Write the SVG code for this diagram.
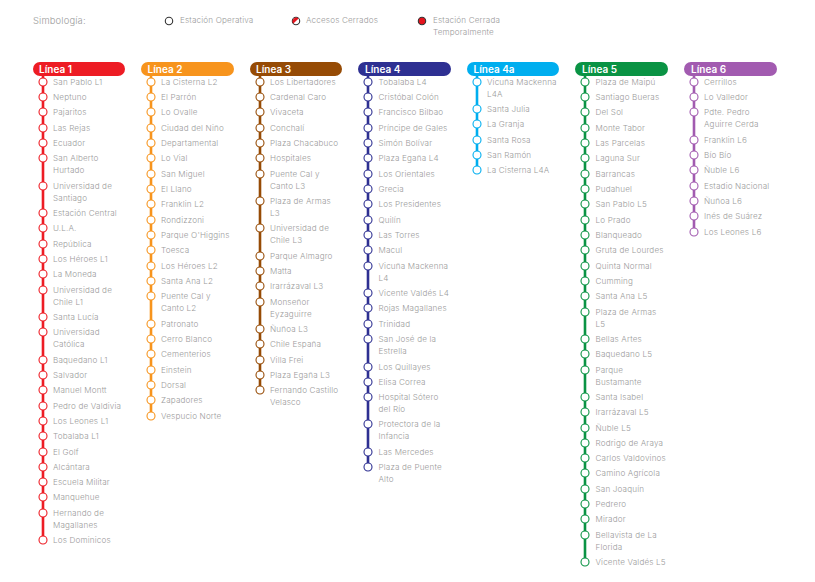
<svg xmlns="http://www.w3.org/2000/svg" width="815" height="582" viewBox="0 0 815 582">
<style>
text{font-family:"Inter","Liberation Sans",sans-serif;font-size:8.1px;font-weight:300;fill:#9b9b9b;letter-spacing:.17px}
.h text{font-size:10px;font-weight:600;fill:#fff;letter-spacing:0}
circle{fill:#fff;stroke-width:1.1}
#connectors line{stroke-width:2.6}
.l1 circle{stroke:#ed1c24}.l2 circle{stroke:#f7941d}.l3 circle{stroke:#964b05}.l4 circle{stroke:#2e3092}.l4a circle{stroke:#00aeef}.l5 circle{stroke:#0a9344}.l6 circle{stroke:#a25bb0}
</style>
<rect width="815" height="582" fill="#fff"/>
<g id="legend">
<text x="33" y="24" style="font-size:9.4px">Simbología:</text>
<g id="leg-operativa"><circle cx="169" cy="21" r="3.7" stroke="#333"/><text x="180" y="23">Estación Operativa</text></g>
<g id="leg-accesos"><circle cx="296" cy="21" r="3.7" stroke="#333"/><path d="M293.400 23.600A3.700 3.700 0 0 1 298.600 18.400Z" fill="#e5131d"/><text x="306" y="23">Accesos Cerrados</text></g>
<g id="leg-cerrada"><circle cx="422" cy="21" r="3.7" stroke="#333" style="fill:#e5131d"/><text x="433" y="23">Estación Cerrada</text><text x="433" y="35">Temporalmente</text></g>
</g>
<g id="connectors">
<line x1="43" y1="76" x2="43" y2="540" stroke="#ed1c24"/>
<line x1="151" y1="76" x2="151" y2="416" stroke="#f7941d"/>
<line x1="260" y1="76" x2="260" y2="390" stroke="#964b05"/>
<line x1="368" y1="76" x2="368" y2="467" stroke="#2e3092"/>
<line x1="477" y1="76" x2="477" y2="170" stroke="#00aeef"/>
<line x1="585" y1="76" x2="585" y2="562" stroke="#0a9344"/>
<line x1="694" y1="76" x2="694" y2="232" stroke="#a25bb0"/>
</g>
<g id="headers" class="h">
<g id="h1"><rect x="33" y="62" width="92" height="14" rx="7" fill="#ed1c24"/><text x="39" y="73">Línea 1</text></g>
<g id="h2"><rect x="141" y="62" width="93" height="14" rx="7" fill="#f7941d"/><text x="147.500" y="73">Línea 2</text></g>
<g id="h3"><rect x="250" y="62" width="92" height="14" rx="7" fill="#964b05"/><text x="256" y="73">Línea 3</text></g>
<g id="h4"><rect x="358" y="62" width="93" height="14" rx="7" fill="#2e3092"/><text x="365" y="73">Línea 4</text></g>
<g id="h4a"><rect x="467" y="62" width="92" height="14" rx="7" fill="#00aeef"/><text x="473.500" y="73">Línea 4a</text></g>
<g id="h5"><rect x="575" y="62" width="93" height="14" rx="7" fill="#0a9344"/><text x="582" y="73">Línea 5</text></g>
<g id="h6"><rect x="684" y="62" width="93" height="14" rx="7" fill="#a25bb0"/><text x="691" y="73">Línea 6</text></g>
</g>
<g class="l1">
<g id="l1-1"><circle cx="43" cy="82" r="4"/><text x="53" y="85">San Pablo L1</text></g>
<g id="l1-2"><circle cx="43" cy="97" r="4"/><text x="53" y="100">Neptuno</text></g>
<g id="l1-3"><circle cx="43" cy="112" r="4"/><text x="53" y="115">Pajaritos</text></g>
<g id="l1-4"><circle cx="43" cy="128" r="4"/><text x="53" y="131">Las Rejas</text></g>
<g id="l1-5"><circle cx="43" cy="143" r="4"/><text x="53" y="146">Ecuador</text></g>
<g id="l1-6"><circle cx="43" cy="158" r="4"/><text x="53" y="161">San Alberto</text><text x="53" y="173">Hurtado</text></g>
<g id="l1-7"><circle cx="43" cy="186" r="4"/><text x="53" y="189">Universidad de</text><text x="53" y="201">Santiago</text></g>
<g id="l1-8"><circle cx="43" cy="213" r="4"/><text x="53" y="216">Estación Central</text></g>
<g id="l1-9"><circle cx="43" cy="228" r="4"/><text x="53" y="231">U.L.A.</text></g>
<g id="l1-10"><circle cx="43" cy="244" r="4"/><text x="53" y="247">República</text></g>
<g id="l1-11"><circle cx="43" cy="259" r="4"/><text x="53" y="262">Los Héroes L1</text></g>
<g id="l1-12"><circle cx="43" cy="274" r="4"/><text x="53" y="277">La Moneda</text></g>
<g id="l1-13"><circle cx="43" cy="290" r="4"/><text x="53" y="293">Universidad de</text><text x="53" y="305">Chile L1</text></g>
<g id="l1-14"><circle cx="43" cy="317" r="4"/><text x="53" y="320">Santa Lucía</text></g>
<g id="l1-15"><circle cx="43" cy="332" r="4"/><text x="53" y="335">Universidad</text><text x="53" y="347">Católica</text></g>
<g id="l1-16"><circle cx="43" cy="360" r="4"/><text x="53" y="363">Baquedano L1</text></g>
<g id="l1-17"><circle cx="43" cy="375" r="4"/><text x="53" y="378">Salvador</text></g>
<g id="l1-18"><circle cx="43" cy="390" r="4"/><text x="53" y="393">Manuel Montt</text></g>
<g id="l1-19"><circle cx="43" cy="406" r="4"/><text x="53" y="409">Pedro de Valdivia</text></g>
<g id="l1-20"><circle cx="43" cy="421" r="4"/><text x="53" y="424">Los Leones L1</text></g>
<g id="l1-21"><circle cx="43" cy="436" r="4"/><text x="53" y="439">Tobalaba L1</text></g>
<g id="l1-22"><circle cx="43" cy="452" r="4"/><text x="53" y="455">El Golf</text></g>
<g id="l1-23"><circle cx="43" cy="467" r="4"/><text x="53" y="470">Alcántara</text></g>
<g id="l1-24"><circle cx="43" cy="482" r="4"/><text x="53" y="485">Escuela Militar</text></g>
<g id="l1-25"><circle cx="43" cy="497" r="4"/><text x="53" y="500">Manquehue</text></g>
<g id="l1-26"><circle cx="43" cy="513" r="4"/><text x="53" y="516">Hernando de</text><text x="53" y="528">Magallanes</text></g>
<g id="l1-27"><circle cx="43" cy="540" r="4"/><text x="53" y="543">Los Dominicos</text></g>
</g>
<g class="l2">
<g id="l2-1"><circle cx="151" cy="82" r="4"/><text x="161" y="85">La Cisterna L2</text></g>
<g id="l2-2"><circle cx="151" cy="97" r="4"/><text x="161" y="100">El Parrón</text></g>
<g id="l2-3"><circle cx="151" cy="112" r="4"/><text x="161" y="115">Lo Ovalle</text></g>
<g id="l2-4"><circle cx="151" cy="128" r="4"/><text x="161" y="131">Ciudad del Niño</text></g>
<g id="l2-5"><circle cx="151" cy="143" r="4"/><text x="161" y="146">Departamental</text></g>
<g id="l2-6"><circle cx="151" cy="158" r="4"/><text x="161" y="161">Lo Vial</text></g>
<g id="l2-7"><circle cx="151" cy="174" r="4"/><text x="161" y="177">San Miguel</text></g>
<g id="l2-8"><circle cx="151" cy="189" r="4"/><text x="161" y="192">El Llano</text></g>
<g id="l2-9"><circle cx="151" cy="204" r="4"/><text x="161" y="207">Franklin L2</text></g>
<g id="l2-10"><circle cx="151" cy="220" r="4"/><text x="161" y="223">Rondizzoni</text></g>
<g id="l2-11"><circle cx="151" cy="235" r="4"/><text x="161" y="238">Parque O'Higgins</text></g>
<g id="l2-12"><circle cx="151" cy="250" r="4"/><text x="161" y="253">Toesca</text></g>
<g id="l2-13"><circle cx="151" cy="266" r="4"/><text x="161" y="269">Los Héroes L2</text></g>
<g id="l2-14"><circle cx="151" cy="281" r="4"/><text x="161" y="284">Santa Ana L2</text></g>
<g id="l2-15"><circle cx="151" cy="296" r="4"/><text x="161" y="299">Puente Cal y</text><text x="161" y="311">Canto L2</text></g>
<g id="l2-16"><circle cx="151" cy="324" r="4"/><text x="161" y="327">Patronato</text></g>
<g id="l2-17"><circle cx="151" cy="339" r="4"/><text x="161" y="342">Cerro Blanco</text></g>
<g id="l2-18"><circle cx="151" cy="354" r="4"/><text x="161" y="357">Cementerios</text></g>
<g id="l2-19"><circle cx="151" cy="370" r="4"/><text x="161" y="373">Einstein</text></g>
<g id="l2-20"><circle cx="151" cy="385" r="4"/><text x="161" y="388">Dorsal</text></g>
<g id="l2-21"><circle cx="151" cy="400" r="4"/><text x="161" y="403">Zapadores</text></g>
<g id="l2-22"><circle cx="151" cy="416" r="4"/><text x="161" y="419">Vespucio Norte</text></g>
</g>
<g class="l3">
<g id="l3-1"><circle cx="260" cy="82" r="4"/><text x="270" y="85">Los Libertadores</text></g>
<g id="l3-2"><circle cx="260" cy="97" r="4"/><text x="270" y="100">Cardenal Caro</text></g>
<g id="l3-3"><circle cx="260" cy="112" r="4"/><text x="270" y="115">Vivaceta</text></g>
<g id="l3-4"><circle cx="260" cy="128" r="4"/><text x="270" y="131">Conchalí</text></g>
<g id="l3-5"><circle cx="260" cy="143" r="4"/><text x="270" y="146">Plaza Chacabuco</text></g>
<g id="l3-6"><circle cx="260" cy="158" r="4"/><text x="270" y="161">Hospitales</text></g>
<g id="l3-7"><circle cx="260" cy="174" r="4"/><text x="270" y="177">Puente Cal y</text><text x="270" y="189">Canto L3</text></g>
<g id="l3-8"><circle cx="260" cy="201" r="4"/><text x="270" y="204">Plaza de Armas</text><text x="270" y="216">L3</text></g>
<g id="l3-9"><circle cx="260" cy="228" r="4"/><text x="270" y="231">Universidad de</text><text x="270" y="243">Chile L3</text></g>
<g id="l3-10"><circle cx="260" cy="256" r="4"/><text x="270" y="259">Parque Almagro</text></g>
<g id="l3-11"><circle cx="260" cy="271" r="4"/><text x="270" y="274">Matta</text></g>
<g id="l3-12"><circle cx="260" cy="286" r="4"/><text x="270" y="289">Irarrázaval L3</text></g>
<g id="l3-13"><circle cx="260" cy="302" r="4"/><text x="270" y="305">Monseñor</text><text x="270" y="317">Eyzaguirre</text></g>
<g id="l3-14"><circle cx="260" cy="329" r="4"/><text x="270" y="332">Ñuñoa L3</text></g>
<g id="l3-15"><circle cx="260" cy="344" r="4"/><text x="270" y="347">Chile España</text></g>
<g id="l3-16"><circle cx="260" cy="360" r="4"/><text x="270" y="363">Villa Frei</text></g>
<g id="l3-17"><circle cx="260" cy="375" r="4"/><text x="270" y="378">Plaza Egaña L3</text></g>
<g id="l3-18"><circle cx="260" cy="390" r="4"/><text x="270" y="393">Fernando Castillo</text><text x="270" y="405">Velasco</text></g>
</g>
<g class="l4">
<g id="l4-1"><circle cx="368" cy="82" r="4"/><text x="378.500" y="85">Tobalaba L4</text></g>
<g id="l4-2"><circle cx="368" cy="97" r="4"/><text x="378.500" y="100">Cristóbal Colón</text></g>
<g id="l4-3"><circle cx="368" cy="112" r="4"/><text x="378.500" y="115">Francisco Bilbao</text></g>
<g id="l4-4"><circle cx="368" cy="128" r="4"/><text x="378.500" y="131">Príncipe de Gales</text></g>
<g id="l4-5"><circle cx="368" cy="143" r="4"/><text x="378.500" y="146">Simón Bolívar</text></g>
<g id="l4-6"><circle cx="368" cy="158" r="4"/><text x="378.500" y="161">Plaza Egaña L4</text></g>
<g id="l4-7"><circle cx="368" cy="174" r="4"/><text x="378.500" y="177">Los Orientales</text></g>
<g id="l4-8"><circle cx="368" cy="189" r="4"/><text x="378.500" y="192">Grecia</text></g>
<g id="l4-9"><circle cx="368" cy="204" r="4"/><text x="378.500" y="207">Los Presidentes</text></g>
<g id="l4-10"><circle cx="368" cy="220" r="4"/><text x="378.500" y="223">Quilín</text></g>
<g id="l4-11"><circle cx="368" cy="235" r="4"/><text x="378.500" y="238">Las Torres</text></g>
<g id="l4-12"><circle cx="368" cy="250" r="4"/><text x="378.500" y="253">Macul</text></g>
<g id="l4-13"><circle cx="368" cy="266" r="4"/><text x="378.500" y="269">Vicuña Mackenna</text><text x="378.500" y="281">L4</text></g>
<g id="l4-14"><circle cx="368" cy="293" r="4"/><text x="378.500" y="296">Vicente Valdés L4</text></g>
<g id="l4-15"><circle cx="368" cy="308" r="4"/><text x="378.500" y="311">Rojas Magallanes</text></g>
<g id="l4-16"><circle cx="368" cy="324" r="4"/><text x="378.500" y="327">Trinidad</text></g>
<g id="l4-17"><circle cx="368" cy="339" r="4"/><text x="378.500" y="342">San José de la</text><text x="378.500" y="354">Estrella</text></g>
<g id="l4-18"><circle cx="368" cy="367" r="4"/><text x="378.500" y="370">Los Quillayes</text></g>
<g id="l4-19"><circle cx="368" cy="382" r="4"/><text x="378.500" y="385">Elisa Correa</text></g>
<g id="l4-20"><circle cx="368" cy="397" r="4"/><text x="378.500" y="400">Hospital Sótero</text><text x="378.500" y="412">del Río</text></g>
<g id="l4-21"><circle cx="368" cy="424" r="4"/><text x="378.500" y="427">Protectora de la</text><text x="378.500" y="439">Infancia</text></g>
<g id="l4-22"><circle cx="368" cy="452" r="4"/><text x="378.500" y="455">Las Mercedes</text></g>
<g id="l4-23"><circle cx="368" cy="467" r="4"/><text x="378.500" y="470">Plaza de Puente</text><text x="378.500" y="482">Alto</text></g>
</g>
<g class="l4a">
<g id="l4a-1"><circle cx="477" cy="82" r="4"/><text x="487" y="85">Vicuña Mackenna</text><text x="487" y="97">L4A</text></g>
<g id="l4a-2"><circle cx="477" cy="109" r="4"/><text x="487" y="112">Santa Julia</text></g>
<g id="l4a-3"><circle cx="477" cy="124" r="4"/><text x="487" y="127">La Granja</text></g>
<g id="l4a-4"><circle cx="477" cy="140" r="4"/><text x="487" y="143">Santa Rosa</text></g>
<g id="l4a-5"><circle cx="477" cy="155" r="4"/><text x="487" y="158">San Ramón</text></g>
<g id="l4a-6"><circle cx="477" cy="170" r="4"/><text x="487" y="173">La Cisterna L4A</text></g>
</g>
<g class="l5">
<g id="l5-1"><circle cx="585" cy="82" r="4"/><text x="595.500" y="85">Plaza de Maipú</text></g>
<g id="l5-2"><circle cx="585" cy="97" r="4"/><text x="595.500" y="100">Santiago Bueras</text></g>
<g id="l5-3"><circle cx="585" cy="112" r="4"/><text x="595.500" y="115">Del Sol</text></g>
<g id="l5-4"><circle cx="585" cy="128" r="4"/><text x="595.500" y="131">Monte Tabor</text></g>
<g id="l5-5"><circle cx="585" cy="143" r="4"/><text x="595.500" y="146">Las Parcelas</text></g>
<g id="l5-6"><circle cx="585" cy="158" r="4"/><text x="595.500" y="161">Laguna Sur</text></g>
<g id="l5-7"><circle cx="585" cy="174" r="4"/><text x="595.500" y="177">Barrancas</text></g>
<g id="l5-8"><circle cx="585" cy="189" r="4"/><text x="595.500" y="192">Pudahuel</text></g>
<g id="l5-9"><circle cx="585" cy="204" r="4"/><text x="595.500" y="207">San Pablo L5</text></g>
<g id="l5-10"><circle cx="585" cy="220" r="4"/><text x="595.500" y="223">Lo Prado</text></g>
<g id="l5-11"><circle cx="585" cy="235" r="4"/><text x="595.500" y="238">Blanqueado</text></g>
<g id="l5-12"><circle cx="585" cy="250" r="4"/><text x="595.500" y="253">Gruta de Lourdes</text></g>
<g id="l5-13"><circle cx="585" cy="266" r="4"/><text x="595.500" y="269">Quinta Normal</text></g>
<g id="l5-14"><circle cx="585" cy="281" r="4"/><text x="595.500" y="284">Cumming</text></g>
<g id="l5-15"><circle cx="585" cy="296" r="4"/><text x="595.500" y="299">Santa Ana L5</text></g>
<g id="l5-16"><circle cx="585" cy="312" r="4"/><text x="595.500" y="315">Plaza de Armas</text><text x="595.500" y="327">L5</text></g>
<g id="l5-17"><circle cx="585" cy="339" r="4"/><text x="595.500" y="342">Bellas Artes</text></g>
<g id="l5-18"><circle cx="585" cy="354" r="4"/><text x="595.500" y="357">Baquedano L5</text></g>
<g id="l5-19"><circle cx="585" cy="370" r="4"/><text x="595.500" y="373">Parque</text><text x="595.500" y="385">Bustamante</text></g>
<g id="l5-20"><circle cx="585" cy="397" r="4"/><text x="595.500" y="400">Santa Isabel</text></g>
<g id="l5-21"><circle cx="585" cy="412" r="4"/><text x="595.500" y="415">Irarrázaval L5</text></g>
<g id="l5-22"><circle cx="585" cy="428" r="4"/><text x="595.500" y="431">Ñuble L5</text></g>
<g id="l5-23"><circle cx="585" cy="443" r="4"/><text x="595.500" y="446">Rodrigo de Araya</text></g>
<g id="l5-24"><circle cx="585" cy="458" r="4"/><text x="595.500" y="461">Carlos Valdovinos</text></g>
<g id="l5-25"><circle cx="585" cy="473" r="4"/><text x="595.500" y="476">Camino Agrícola</text></g>
<g id="l5-26"><circle cx="585" cy="489" r="4"/><text x="595.500" y="492">San Joaquín</text></g>
<g id="l5-27"><circle cx="585" cy="504" r="4"/><text x="595.500" y="507">Pedrero</text></g>
<g id="l5-28"><circle cx="585" cy="519" r="4"/><text x="595.500" y="522">Mirador</text></g>
<g id="l5-29"><circle cx="585" cy="535" r="4"/><text x="595.500" y="538">Bellavista de La</text><text x="595.500" y="550">Florida</text></g>
<g id="l5-30"><circle cx="585" cy="562" r="4"/><text x="595.500" y="565">Vicente Valdés L5</text></g>
</g>
<g class="l6">
<g id="l6-1"><circle cx="694" cy="82" r="4"/><text x="704" y="85">Cerrillos</text></g>
<g id="l6-2"><circle cx="694" cy="97" r="4"/><text x="704" y="100">Lo Valledor</text></g>
<g id="l6-3"><circle cx="694" cy="112" r="4"/><text x="704" y="115">Pdte. Pedro</text><text x="704" y="127">Aguirre Cerda</text></g>
<g id="l6-4"><circle cx="694" cy="140" r="4"/><text x="704" y="143">Franklin L6</text></g>
<g id="l6-5"><circle cx="694" cy="155" r="4"/><text x="704" y="158">Bío Bío</text></g>
<g id="l6-6"><circle cx="694" cy="170" r="4"/><text x="704" y="173">Ñuble L6</text></g>
<g id="l6-7"><circle cx="694" cy="186" r="4"/><text x="704" y="189">Estadio Nacional</text></g>
<g id="l6-8"><circle cx="694" cy="201" r="4"/><text x="704" y="204">Ñuñoa L6</text></g>
<g id="l6-9"><circle cx="694" cy="216" r="4"/><text x="704" y="219">Inés de Suárez</text></g>
<g id="l6-10"><circle cx="694" cy="232" r="4"/><text x="704" y="235">Los Leones L6</text></g>
</g>
</svg>
